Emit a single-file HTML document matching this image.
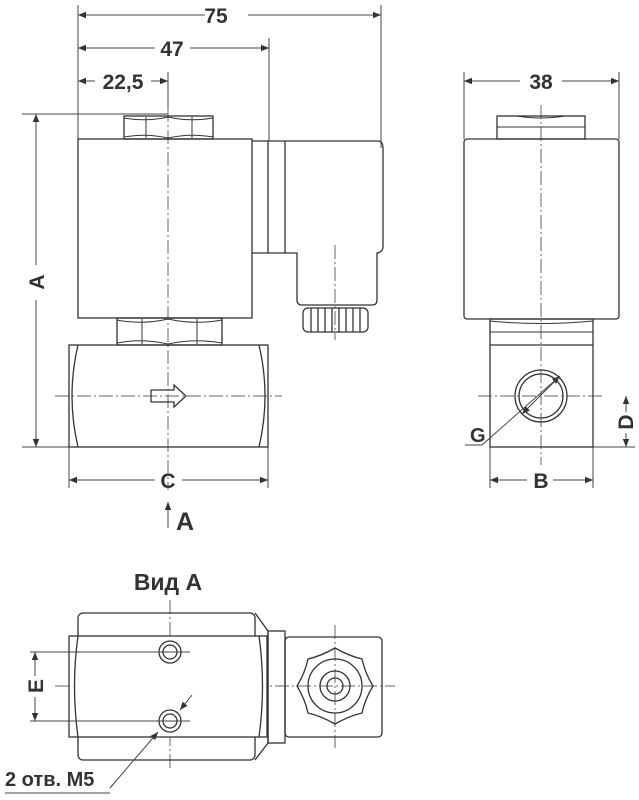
<!DOCTYPE html>
<html><head><meta charset="utf-8"><style>
html,body{margin:0;padding:0;background:#fff;}
svg{display:block;}
text{font-family:"Liberation Sans",sans-serif;font-weight:bold;fill:#333;}
</style></head><body>
<svg width="639" height="800" viewBox="0 0 639 800" xmlns="http://www.w3.org/2000/svg">
<defs>
<marker id="ar" viewBox="0 0 10 10" refX="10" refY="5" markerWidth="10" markerHeight="8" orient="auto-start-reverse" markerUnits="userSpaceOnUse"><path d="M0,1 L10,5 L0,9 z" fill="#333"/></marker>
</defs>
<g stroke="#444" stroke-width="1" fill="none">
<line x1="78" y1="5" x2="78" y2="139"/>
<line x1="381" y1="5" x2="381" y2="148"/>
<line x1="269" y1="38" x2="269" y2="141"/>
<line x1="168" y1="72" x2="168" y2="116"/>
<line x1="22" y1="114" x2="168" y2="114"/>
<line x1="22" y1="447" x2="69" y2="447"/>
<line x1="69" y1="447" x2="69" y2="488"/>
<line x1="268" y1="447" x2="268" y2="488"/>
<line x1="464" y1="72" x2="464" y2="139"/>
<line x1="619" y1="72" x2="619" y2="139"/>
<line x1="490" y1="447" x2="490" y2="488"/>
<line x1="593" y1="447" x2="593" y2="488"/>
<line x1="593" y1="447" x2="635" y2="447"/>
<line x1="78" y1="15" x2="205" y2="15" marker-start="url(#ar)"/>
<line x1="248" y1="15" x2="381" y2="15" marker-end="url(#ar)"/>
<line x1="78" y1="48" x2="155" y2="48" marker-start="url(#ar)"/>
<line x1="190" y1="48" x2="269" y2="48" marker-end="url(#ar)"/>
<line x1="78" y1="81" x2="95" y2="81" marker-start="url(#ar)"/>
<line x1="151" y1="81" x2="168" y2="81" marker-end="url(#ar)"/>
<line x1="36" y1="114" x2="36" y2="265" marker-start="url(#ar)"/>
<line x1="36" y1="300" x2="36" y2="447" marker-end="url(#ar)"/>
<line x1="69" y1="480" x2="155" y2="480" marker-start="url(#ar)"/>
<line x1="182" y1="480" x2="268" y2="480" marker-end="url(#ar)"/>
<line x1="168" y1="528" x2="168" y2="502" marker-end="url(#ar)"/>
<line x1="464" y1="81" x2="520" y2="81" marker-start="url(#ar)"/>
<line x1="562" y1="81" x2="619" y2="81" marker-end="url(#ar)"/>
<line x1="490" y1="480" x2="527" y2="480" marker-start="url(#ar)"/>
<line x1="553" y1="480" x2="593" y2="480" marker-end="url(#ar)"/>
<line x1="626" y1="396" x2="626" y2="412" marker-start="url(#ar)"/>
<line x1="626" y1="433" x2="626" y2="447" marker-end="url(#ar)"/>
<g stroke-dasharray="14,3,2,3" stroke="#666">
<line x1="168" y1="108" x2="168" y2="490"/>
<line x1="55" y1="396" x2="282" y2="396"/>
<line x1="335" y1="245" x2="335" y2="340"/>
<line x1="541" y1="105" x2="541" y2="465"/>
<line x1="478" y1="396" x2="605" y2="396"/>
<line x1="170" y1="600" x2="170" y2="770"/>
<line x1="55" y1="686" x2="395" y2="686"/>
<line x1="335" y1="625" x2="335" y2="748"/>
</g>
</g>
<g stroke="#333" stroke-width="1.3" fill="none">
<rect x="78" y="139" width="174" height="179"/>
<rect x="124" y="116" width="89" height="23"/>
<path d="M146,117 L146,138 M192,117 L192,138 M124,118 Q146,122 168,117 Q190,122 213,118 M124,137 Q146,133 168,138 Q190,133 213,137" stroke-width="1"/>
<path d="M252,141 L378,141 Q383,141 383,148 L383,246 Q383,252 377,253 L377,300 Q377,305 372,305 L302,305 Q297,305 297,300 L297,253 L252,253"/>
<line x1="268" y1="141" x2="268" y2="253"/>
<line x1="285" y1="141" x2="285" y2="253"/>
<rect x="303" y="308" width="65" height="24" rx="5"/>
<path d="M311,308v24M318,308v24M325,308v24M332,308v24M339,308v24M346,308v24M353,308v24M360,308v24"/>
<rect x="117" y="318" width="105" height="27"/>
<path d="M142,319 L142,344 M197,319 L197,344 M117,320 Q142,325 168,319 Q194,325 222,320 M117,343 Q142,338 168,344 Q194,338 222,343" stroke-width="1"/>
<rect x="69" y="345" width="199" height="102"/>
<path d="M78,345 Q66,396 78,447 M259,345 Q271,396 259,447"/>
<path d="M151,390 L174,390 L174,385 L186,396 L174,407 L174,402 L151,402 Z"/>
<rect x="464" y="139" width="155" height="180" rx="3"/>
<rect x="497" y="116" width="88" height="23"/>
<path d="M497,127 L585,127 M517,116 Q541,120 565,116" stroke-width="1"/>
<rect x="490" y="319" width="103" height="128"/>
<line x1="490" y1="345" x2="593" y2="345"/>
<path d="M490,332 L593,332 M490,321 Q541,326 593,321" stroke-width="1"/>
<circle cx="541" cy="396" r="26"/>
<circle cx="541" cy="396" r="22"/>
<rect x="78" y="613" width="177" height="147" rx="5"/>
<rect x="69" y="636" width="198" height="101" fill="#fff"/>
<path d="M78,636 Q71,686 78,737 M255,613 L268,631 L268,743 L255,760 M259,636 Q266,686 259,737"/>
<rect x="268" y="631" width="17" height="112"/>
<rect x="285" y="637" width="97" height="100" rx="4"/>
<circle cx="170" cy="652" r="11"/><circle cx="170" cy="652" r="7"/>
<circle cx="170" cy="721" r="11"/><circle cx="170" cy="721" r="7"/>
<path d="M335,648 Q349,656 362,659 Q365,673 373,686 Q365,699 362,713 Q349,716 335,724 Q321,716 308,713 Q305,699 297,686 Q305,673 308,659 Q321,656 335,648 Z"/>
<circle cx="335" cy="686" r="27"/>
<circle cx="335" cy="686" r="15"/>
<circle cx="335" cy="686" r="8"/>
</g>
<g stroke="#444" stroke-width="1" fill="none">
<line x1="30" y1="652" x2="190" y2="652"/>
<line x1="30" y1="721" x2="190" y2="721"/>
<line x1="35" y1="652" x2="35" y2="676" marker-start="url(#ar)"/>
<line x1="35" y1="697" x2="35" y2="721" marker-end="url(#ar)"/>
<line x1="110" y1="788" x2="158" y2="732" marker-end="url(#ar)"/>
<line x1="192" y1="695" x2="180" y2="710" marker-end="url(#ar)"/>
<line x1="5" y1="793" x2="110" y2="793"/>
<line x1="465" y1="445" x2="482" y2="445"/>
<line x1="482" y1="445" x2="560" y2="376" marker-end="url(#ar)"/>
<line x1="560" y1="376" x2="522" y2="414" marker-end="url(#ar)"/>
</g>
<g font-size="21">
<text x="216" y="23" text-anchor="middle">75</text>
<text x="172" y="56" text-anchor="middle">47</text>
<text x="123" y="89" text-anchor="middle">22,5</text>
<text x="168" y="488" text-anchor="middle">C</text>
<text x="541" y="89" text-anchor="middle">38</text>
<text x="541" y="488" text-anchor="middle">B</text>
<text x="470" y="442" font-size="20">G</text>
<text transform="translate(44,282) rotate(-90)" text-anchor="middle">A</text>
<text transform="translate(633,422) rotate(-90)" text-anchor="middle">D</text>
<text transform="translate(43,686) rotate(-90)" text-anchor="middle">E</text>
<text x="185" y="530" font-size="25" text-anchor="middle">A</text>
<text x="168" y="590" font-size="23" text-anchor="middle">Вид А</text>
<text x="5" y="786" font-size="20">2 отв. M5</text>
</g>
</svg>
</body></html>
